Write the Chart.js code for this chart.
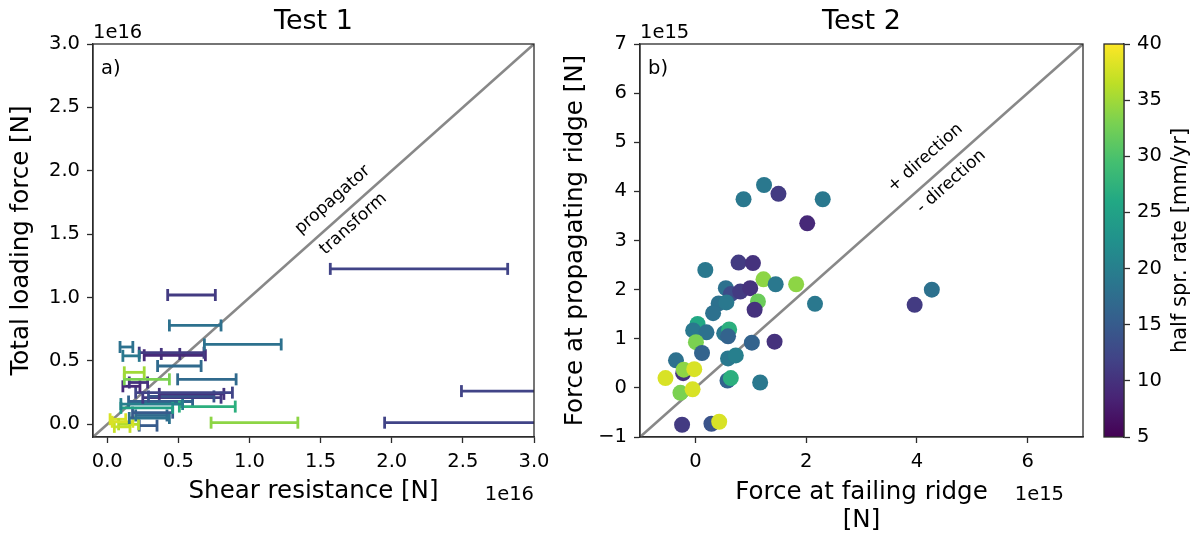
<!DOCTYPE html>
<html>
<head>
<meta charset="utf-8">
<script src="https://cdn.jsdelivr.net/npm/chart.js@4.4.1/dist/chart.umd.min.js"></script>
<style>
  html, body { margin: 0; padding: 0; background: #fff; }
  #wrap { position: relative; width: 1200px; height: 536px; }
  canvas { position: absolute; top: 0; }
</style>
</head>
<body>
<div id="wrap">
  <canvas id="testA" width="560" height="536" style="left:0"></canvas>
  <canvas id="testB" width="535" height="536" style="left:560px"></canvas>
  <canvas id="cbar" width="105" height="536" style="left:1095px"></canvas>
</div>
<script>
/* two force panels + spreading-rate colorbar */

// Test 1 — error bars, units of 1e16 N
const loadForce = [1.226, 0.262, 0.013, 0.013, 1.02, 0.78, 0.63, 0.61, 0.54, 0.565, 0.545, 0.555, 0.46, 0.41, 0.355, 0.355, 0.33, 0.30, 0.25, 0.24, 0.22, 0.21, 0.16, 0.14, 0.13, 0.18, 0.092, 0.05, 0.02, -0.02, 0.0, -0.01, 0.04, 0.07];
const shearLo   = [1.568, 2.49, 1.95, 0.73, 0.425, 0.437, 0.683, 0.09, 0.11, 0.225, 0.26, 0.38, 0.354, 0.12, 0.12, 0.495, 0.155, 0.11, 0.2, 0.366, 0.29, 0.25, 0.096, 0.507, 0.096, 0.15, 0.178, 0.155, 0.035, 0.05, 0.08, 0.225, 0.02, 0.20];
const shearHi   = [2.815, 3.35, 3.40, 1.34, 0.76, 0.80, 1.223, 0.18, 0.225, 0.68, 0.69, 0.51, 0.66, 0.26, 0.437, 0.906, 0.284, 0.23, 0.88, 0.82, 0.75, 0.80, 0.53, 0.90, 0.46, 0.60, 0.46, 0.437, 0.18, 0.16, 0.22, 0.35, 0.13, 0.42];
const rateA     = [12, 12, 12, 34, 11, 18, 18, 18, 19, 11, 9, 10, 17, 35, 33, 17, 10, 9, 12, 10, 14, 11, 20, 27, 25, 16, 15, 18, 38, 37, 36, 15, 38, 17];

// Test 2 — scatter, units of 1e15 N
const failForce = [1.24, 1.50, 0.87, 2.30, 2.02, 0.18, 0.78, 1.04, 1.23, 1.45, 1.82, 0.55, 0.64, 0.81, 0.99, 1.13, 1.07, 2.16, 0.42, 0.56, 0.32, 0.04, -0.04, 0.20, 0.52, 0.61, 0.59, 0.01, 1.02, 1.43, 0.12, 0.59, 0.73, -0.35, -0.22, -0.21, -0.02, -0.54, 0.58, 0.64, 1.17, -0.27, -0.05, -0.24, 0.29, 0.43, 3.96, 4.27];
const propForce = [4.13, 3.95, 3.84, 3.84, 3.35, 2.40, 2.55, 2.54, 2.21, 2.11, 2.11, 2.03, 1.91, 1.96, 2.03, 1.76, 1.59, 1.71, 1.72, 1.74, 1.52, 1.30, 1.17, 1.13, 1.11, 1.19, 1.05, 0.93, 0.92, 0.94, 0.71, 0.60, 0.66, 0.56, 0.30, 0.37, 0.38, 0.20, 0.15, 0.20, 0.11, -0.10, -0.03, -0.75, -0.73, -0.69, 1.69, 2.00];
const rateB     = [19, 11, 19, 19, 9, 19, 11, 10, 34, 19, 34, 18, 13, 11, 10, 32, 10, 19, 18, 19, 18, 26, 19, 18, 19, 27, 16, 33, 16, 10, 16, 19, 20, 18, 10, 34, 38, 38, 16, 27, 19, 33, 38, 11, 14, 38, 11, 18];

const ticksA   = [0, 0.5, 1, 1.5, 2, 2.5, 3];
const ticksBX  = [0, 2, 4, 6];
const ticksBY  = [-1, 0, 1, 2, 3, 4, 5, 6, 7];
const ticksBar = [5, 10, 15, 20, 25, 30, 35, 40];
const diagA = [-0.1, 3.0];
const diagB = [-1, 7];
const RATE_MIN = 5, RATE_MAX = 40;

const FONT = 'DejaVu Sans';
const SPINE = '#2b2b2b';
const VIRIDIS = ['#440154','#482475','#414487','#355f8d','#2a788e','#21918c','#22a884','#44bf70','#7ad151','#bddf26','#fde725'];

Chart.defaults.font.family = FONT;
Chart.defaults.color = '#000';
Chart.defaults.animation = false;
Chart.defaults.plugins.legend.display = false;
Chart.defaults.plugins.tooltip.enabled = false;

function hexRgb(h) {
  return [1, 3, 5].map(i => parseInt(h.slice(i, i + 2), 16));
}

function viridis(v) {
  const t = Math.min(1, Math.max(0, (v - RATE_MIN) / (RATE_MAX - RATE_MIN))) * 10;
  const i = Math.min(9, Math.floor(t)), f = t - i;
  const a = hexRgb(VIRIDIS[i]), b = hexRgb(VIRIDIS[i + 1]);
  const c = a.map((av, k) => Math.round(av + (b[k] - av) * f));
  return `rgb(${c[0]},${c[1]},${c[2]})`;
}

const fmt1   = v => v.toFixed(1);
const fmtInt = v => (v < 0 ? '\u2212' + Math.abs(v) : String(v));

function axis(min, max, ticks, fmt, size, extra) {
  return Object.assign({
    type: 'linear', min, max,
    afterBuildTicks: s => { s.ticks = ticks.map(v => ({ value: v })); },
    afterFit: s => { if (s.isHorizontal()) s.height = size; else s.width = size; },
    ticks: { callback: fmt, autoSkip: false, maxRotation: 0, padding: 7, font: { size: 19.5 } },
    grid: { drawOnChartArea: false, tickLength: 6, tickWidth: 1.3, tickColor: SPINE },
    border: { display: true, color: SPINE, width: 1.3 }
  }, extra || {});
}

function axisTitle(text, pad) {
  return { display: true, text, font: { size: 24.5, lineHeight: 1.15 }, padding: pad };
}

// spines all round + titles / offset text / notes along the diagonal
function decor(cfg) {
  return {
    id: 'decor',
    afterDatasetsDraw(chart) {
      const { ctx, chartArea: a } = chart;
      ctx.save();
      ctx.strokeStyle = SPINE;
      ctx.lineWidth = 1.3;
      ctx.strokeRect(a.left, a.top, a.right - a.left, a.bottom - a.top);
      ctx.restore();
    },
    afterDraw(chart) {
      const { ctx, chartArea: a, scales: { x, y } } = chart;
      ctx.save();
      ctx.fillStyle = '#000';
      ctx.textBaseline = 'alphabetic';

      ctx.font = `27px ${FONT}`;
      ctx.textAlign = 'center';
      ctx.fillText(cfg.title, (a.left + a.right) / 2, 29);

      ctx.font = `19.5px ${FONT}`;
      ctx.textAlign = 'left';
      ctx.fillText(cfg.offset, a.left, a.top - 6);
      ctx.fillText(cfg.letter, a.left + 8, a.top + 30);
      ctx.textAlign = 'right';
      ctx.fillText(cfg.offset, a.right - cfg.offsetInset, 500);

      const ang = Math.atan2(y.getPixelForValue(0) - y.getPixelForValue(1), x.getPixelForValue(1) - x.getPixelForValue(0));
      ctx.font = `17px ${FONT}`;
      ctx.textAlign = 'center';
      ctx.textBaseline = 'middle';
      cfg.notes.forEach(n => {
        ctx.save();
        ctx.translate(x.getPixelForValue(n.x), y.getPixelForValue(n.y));
        ctx.rotate(-ang);
        ctx.fillText(n.text, 0, 0);
        ctx.restore();
      });
      ctx.restore();
    }
  };
}

// Test 1
const barSets = loadForce.map((yv, i) => {
  const col = viridis(rateA[i]);
  return {
    data: [{ x: shearLo[i], y: yv }, { x: shearHi[i], y: yv }],
    showLine: true,
    borderColor: col,
    borderWidth: 2.8,
    pointStyle: 'line',
    rotation: 90,
    pointRadius: 6,
    pointBorderColor: col,
    pointBorderWidth: 2.8,
    order: 1
  };
});

new Chart(document.getElementById('testA'), {
  type: 'scatter',
  data: {
    datasets: [
      ...barSets,
      {
        data: diagA.map(v => ({ x: v, y: v })),
        showLine: true, borderColor: '#888888', borderWidth: 2.6, pointRadius: 0, order: 2
      }
    ]
  },
  options: {
    responsive: false,
    layout: { padding: { top: 44, right: 26, bottom: 0, left: 0 } },
    scales: {
      x: axis(diagA[0], diagA[1], ticksA, fmt1, 99, { title: axisTitle('Shear resistance [N]', { top: 0, bottom: 30 }) }),
      y: axis(diagA[0], diagA[1], ticksA, fmt1, 93, { title: axisTitle('Total loading force [N]', { top: 8, bottom: 0 }) })
    }
  },
  plugins: [decor({
    title: 'Test 1', offset: '1e16', offsetInset: 0, letter: 'a)',
    notes: [{ text: 'propagator', x: 1.585, y: 1.77 }, { text: 'transform', x: 1.73, y: 1.58 }]
  })]
});

// Test 2
new Chart(document.getElementById('testB'), {
  type: 'scatter',
  data: {
    datasets: [
      {
        data: failForce.map((v, i) => ({ x: v, y: propForce[i] })),
        backgroundColor: rateB.map(viridis),
        borderWidth: 0,
        pointRadius: 8,
        order: 1
      },
      {
        data: diagB.map(v => ({ x: v, y: v })),
        showLine: true, borderColor: '#888888', borderWidth: 2.6, pointRadius: 0, order: 2
      }
    ]
  },
  options: {
    responsive: false,
    layout: { padding: { top: 44, right: 12, bottom: 0, left: 0 } },
    scales: {
      x: axis(diagB[0], diagB[1], ticksBX, fmtInt, 99, { title: axisTitle(['Force at failing ridge', '[N]'], { top: 0, bottom: 1 }) }),
      y: axis(diagB[0], diagB[1], ticksBY, fmtInt, 80, { title: axisTitle('Force at propagating ridge [N]', { top: 2, bottom: 0 }) })
    }
  },
  plugins: [decor({
    title: 'Test 2', offset: '1e15', offsetInset: 19, letter: 'b)',
    notes: [{ text: '+ direction', x: 4.15, y: 4.68 }, { text: '- direction', x: 4.62, y: 4.2 }]
  })]
});

// colorbar
const cbarPaint = {
  id: 'cbarPaint',
  beforeDatasetsDraw(chart) {
    const { ctx, chartArea: a } = chart;
    const g = ctx.createLinearGradient(0, a.bottom, 0, a.top);
    VIRIDIS.forEach((c, i) => g.addColorStop(i / (VIRIDIS.length - 1), c));
    ctx.save();
    ctx.fillStyle = g;
    ctx.fillRect(a.left, a.top, a.right - a.left, a.bottom - a.top);
    ctx.strokeStyle = SPINE;
    ctx.lineWidth = 1.3;
    ctx.strokeRect(a.left, a.top, a.right - a.left, a.bottom - a.top);
    ctx.restore();
  },
  afterDraw(chart) {
    const { ctx, chartArea: a } = chart;
    ctx.save();
    ctx.font = `21px ${FONT}`;
    ctx.fillStyle = '#000';
    ctx.textAlign = 'center';
    ctx.textBaseline = 'middle';
    ctx.translate(86, (a.top + a.bottom) / 2);
    ctx.rotate(-Math.PI / 2);
    ctx.fillText('half spr. rate [mm/yr]', 0, 0);
    ctx.restore();
  }
};

new Chart(document.getElementById('cbar'), {
  type: 'scatter',
  data: { datasets: [] },
  options: {
    responsive: false,
    layout: { padding: { top: 44, right: 0, bottom: 99, left: 9 } },
    scales: {
      x: { display: false },
      y: axis(RATE_MIN, RATE_MAX, ticksBar, v => String(v), 76, { position: 'right' })
    }
  },
  plugins: [cbarPaint]
});
</script>
</body>
</html>
